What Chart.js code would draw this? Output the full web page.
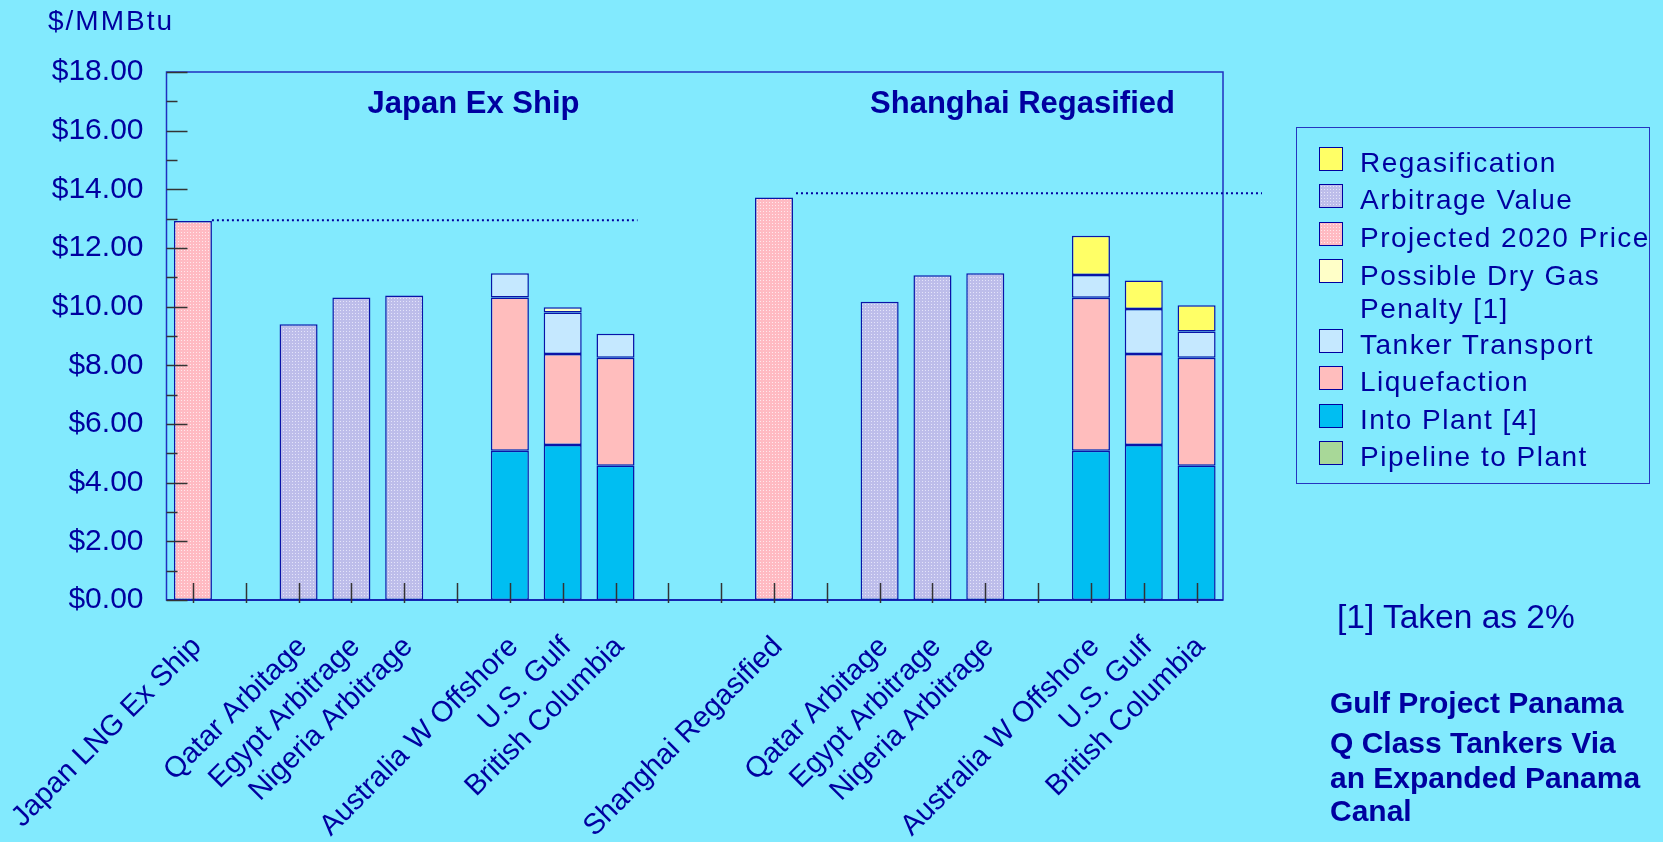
<!DOCTYPE html>
<html>
<head>
<meta charset="utf-8">
<script src="https://cdn.jsdelivr.net/npm/chart.js@4.4.0/dist/chart.umd.min.js"></script>
<style>
  html, body { margin: 0; padding: 0; background: #82EAFE; }
  body { width: 1663px; height: 842px; position: relative; overflow: hidden;
         font-family: "Liberation Sans", Arial, sans-serif; color: #0000A0; }
  #wrap { position: absolute; left: 0; top: 0; width: 1663px; height: 842px; }
  #legend { position: absolute; left: 1296px; top: 127px; width: 354px; height: 357px;
            border: 1.5px solid #2535c0; box-sizing: border-box; padding-top: 16px; }
  .item { display: flex; align-items: center; height: 37.5px; padding-left: 22px;
          font-size: 28px; letter-spacing: 1.5px; white-space: nowrap; }
  .item .sw { width: 24px; height: 24px; border: 1px solid #0000A0; box-sizing: border-box;
              margin-right: 17px; position: relative; top: -4px; flex: none; }
  .item.two { height: 69.5px; align-items: flex-start; }
  .item.two .sw { margin-top: 6.75px; }
  .item.two .txt { white-space: pre-line; line-height: 33px; padding-top: 2.25px; }
  .note { position: absolute; white-space: nowrap; line-height: 1; }
</style>
</head>
<body>
<div id="wrap"><canvas id="canvas" width="1663" height="842"></canvas></div>
<div id="legend"></div>
<div class="note" style="left:1337px; top:600px; font-size:33.5px;">[1] Taken as 2%</div>
<div class="note" style="left:1330px; top:688px; font-size:30px; font-weight:bold;">Gulf Project Panama</div>
<div class="note" style="left:1330px; top:728px; font-size:30px; font-weight:bold;">Q Class Tankers Via</div>
<div class="note" style="left:1330px; top:763px; font-size:30px; font-weight:bold;">an Expanded Panama</div>
<div class="note" style="left:1330px; top:796px; font-size:30px; font-weight:bold;">Canal</div>
<script>
var N = null;
var categories = ['Japan LNG Ex Ship', '', 'Qatar Arbitage', 'Egypt Arbitrage', 'Nigeria Arbitrage', '',
    'Australia W Offshore', 'U.S. Gulf', 'British Columbia', '', '', 'Shanghai Regasified', '',
    'Qatar Arbitage', 'Egypt Arbitrage', 'Nigeria Arbitrage', '', 'Australia W Offshore', 'U.S. Gulf', 'British Columbia'];

var pipelineToPlant = [N, N, N, N, N, N, N, N, N, N, N, N, N, N, N, N, N, N, N, N];
var intoPlant       = [N, N, N, N, N, N, 5.09, 5.28, 4.58, N, N, N, N, N, N, N, N, 5.09, 5.28, 4.58];
var liquefaction    = [N, N, N, N, N, N, 5.22, 3.11, 3.68, N, N, N, N, N, N, N, N, 5.21, 3.11, 3.68];
var tankerTransport = [N, N, N, N, N, N, 0.83, 1.41, 0.82, N, N, N, N, N, N, N, N, 0.78, 1.53, 0.89];
var dryGasPenalty   = [N, N, N, N, N, N, N, 0.18, N, N, N, N, N, N, N, N, N, N, N, N];
var projected2020   = [12.92, N, N, N, N, N, N, N, N, N, N, 13.72, N, N, N, N, N, N, N, N];
var arbitrageValue  = [N, N, 9.40, 10.31, 10.38, N, N, N, N, N, N, N, N, 10.17, 11.07, 11.14, N, N, N, N];
var regasification  = [N, N, N, N, N, N, N, N, N, N, N, N, N, N, N, N, N, 1.34, 0.97, 0.90];

// dotted reference levels: Japan ex ship, Shanghai regasified
var refLevels = [12.95, 13.87];
var yMin = 0, yMax = 18, yStep = 2;

var textBlue = '#0000A0';
var edge = '#0A14A8';

function dotTile(base, dot) {
    var c = document.createElement('canvas');
    c.width = 3; c.height = 3;
    var g = c.getContext('2d');
    g.fillStyle = base; g.fillRect(0, 0, 3, 3);
    g.fillStyle = dot; g.fillRect(1, 1, 1, 1);
    return c;
}
var pinkTile = dotTile('#FFBAC2', '#FFE8EC');
var lilacTile = dotTile('#BDBDEA', '#E4E4FA');
var pinkDots = pinkTile.getContext('2d').createPattern(pinkTile, 'repeat');
var lilacDots = lilacTile.getContext('2d').createPattern(lilacTile, 'repeat');

function ds(label, data, fill, swatch) {
    return {
        label: label, data: data, backgroundColor: fill, swatch: swatch || fill,
        borderColor: edge, borderWidth: 1.5, borderSkipped: false,
        barPercentage: 0.72, categoryPercentage: 1.0, stack: 's'
    };
}

var datasets = [
    ds('Pipeline to Plant', pipelineToPlant, '#A8D898'),
    ds('Into Plant [4]', intoPlant, '#00BEF2'),
    ds('Liquefaction', liquefaction, '#FFBDBD'),
    ds('Tanker  Transport', tankerTransport, '#C5E8FF'),
    ds('Possible Dry Gas\nPenalty [1]', dryGasPenalty, '#FFFFC8'),
    ds('Projected 2020 Price', projected2020, pinkDots, 'url(' + pinkTile.toDataURL() + ')'),
    ds('Arbitrage Value', arbitrageValue, lilacDots, 'url(' + lilacTile.toDataURL() + ')'),
    ds('Regasification', regasification, '#FFFF66')
];

var decor = {
    id: 'decor',
    afterDraw: function(chart) {
        var ctx = chart.ctx, a = chart.chartArea, xs = chart.scales.x, ys = chart.scales.y;
        ctx.save();
        // plot frame
        ctx.strokeStyle = '#2030C0';
        ctx.lineWidth = 1.5;
        ctx.strokeRect(a.left, a.top, a.right - a.left, a.bottom - a.top);
        ctx.strokeStyle = edge;
        ctx.beginPath(); ctx.moveTo(a.left, a.bottom); ctx.lineTo(a.right, a.bottom); ctx.stroke();

        // tick marks drawn inside the plot
        ctx.strokeStyle = '#333';
        ctx.lineWidth = 1.5;
        for (var v = yMin; v <= yMax; v += yStep / 2) {
            var y = Math.round(ys.getPixelForValue(v)) + 0.5;
            var len = (v % yStep === 0) ? 21 : 11;
            ctx.beginPath(); ctx.moveTo(a.left, y); ctx.lineTo(a.left + len, y); ctx.stroke();
        }
        for (var i = 0; i < categories.length; i++) {
            var x = Math.round(xs.getPixelForTick(i)) + 0.5;
            ctx.beginPath(); ctx.moveTo(x, a.bottom - 17); ctx.lineTo(x, a.bottom + 3); ctx.stroke();
        }

        // dotted reference lines
        ctx.strokeStyle = textBlue;
        ctx.lineWidth = 2;
        ctx.setLineDash([2, 3]);
        var y1 = ys.getPixelForValue(refLevels[0]);
        ctx.beginPath(); ctx.moveTo(xs.getPixelForValue(0) + 19, y1); ctx.lineTo(xs.getPixelForValue(8) + 22, y1); ctx.stroke();
        var y2 = ys.getPixelForValue(refLevels[1]);
        ctx.beginPath(); ctx.moveTo(xs.getPixelForValue(11) + 22, y2); ctx.lineTo(a.right + 39, y2); ctx.stroke();
        ctx.setLineDash([]);

        // texts
        ctx.fillStyle = textBlue;
        ctx.textBaseline = 'middle';
        ctx.textAlign = 'center';
        ctx.font = 'bold 31px "Liberation Sans", Arial, sans-serif';
        ctx.fillText('Japan Ex Ship', a.left + 307, a.top + 32);
        ctx.fillText('Shanghai Regasified', a.left + 856, a.top + 32);
        ctx.textAlign = 'left';
        ctx.font = '28px "Liberation Sans", Arial, sans-serif';
        ctx.letterSpacing = '2px';
        ctx.fillText('$/MMBtu', 48, 22);
        ctx.restore();
    }
};

window.onload = function() {
    var ctx = document.getElementById('canvas').getContext('2d');
    new Chart(ctx, {
        type: 'bar',
        data: { labels: categories, datasets: datasets },
        plugins: [decor],
        options: {
            responsive: false,
            animation: false,
            layout: { padding: { top: 72, right: 440, left: 0, bottom: 0 } },
            plugins: { legend: { display: false }, tooltip: { enabled: false } },
            scales: {
                x: {
                    stacked: true,
                    grid: { display: false },
                    border: { display: false },
                    ticks: {
                        autoSkip: false, maxRotation: 45, minRotation: 45, padding: 22, labelOffset: 4,
                        color: textBlue, font: { family: '"Liberation Sans", Arial, sans-serif', size: 29 }
                    },
                    afterFit: function(s) { s.height = 242; s.paddingLeft = 0; s.paddingRight = 0; }
                },
                y: {
                    stacked: true, min: yMin, max: yMax,
                    grid: { display: false },
                    border: { display: false },
                    ticks: {
                        stepSize: yStep, padding: 15, color: textBlue,
                        font: { family: '"Liberation Sans", Arial, sans-serif', size: 30 },
                        callback: function(v) { return '$' + Number(v).toFixed(2); }
                    },
                    afterFit: function(s) { s.width = 166.5; }
                }
            }
        }
    });

    var box = document.getElementById('legend');
    datasets.slice().reverse().forEach(function(d) {
        var two = d.label.indexOf('\n') >= 0;
        var row = document.createElement('div');
        row.className = 'item' + (two ? ' two' : '');
        var sw = document.createElement('span');
        sw.className = 'sw';
        sw.style.background = d.swatch;
        var tx = document.createElement('span');
        tx.className = 'txt';
        tx.textContent = d.label;
        row.appendChild(sw); row.appendChild(tx);
        box.appendChild(row);
    });
};
</script>
</body>
</html>
